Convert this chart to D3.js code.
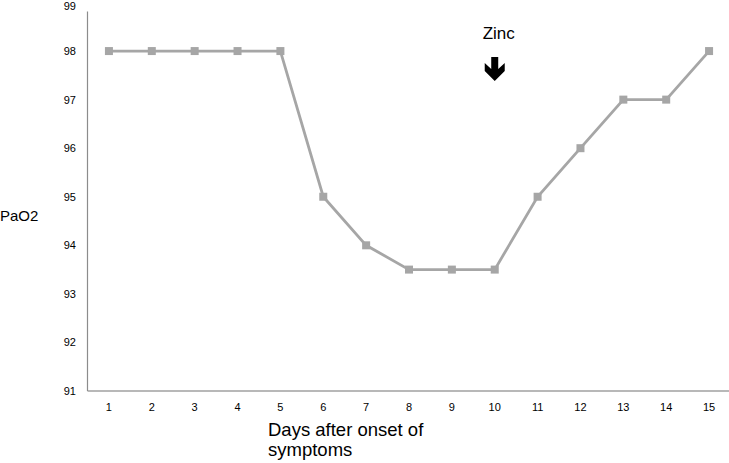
<!DOCTYPE html>
<html lang="en">
<head>
    <meta charset="UTF-8">
    <title>PaO2</title>
    <script src="https://d3js.org/d3.v7.min.js"></script>
    <style>
        body { margin: 0; background: #fff; }
        text { font-family: "Liberation Sans", Arial, sans-serif; fill: #000; }
    </style>
</head>
<body>
    <script>
        // Data
        const days = [1, 2, 3, 4, 5, 6, 7, 8, 9, 10, 11, 12, 13, 14, 15];
        const pao2 = [98, 98, 98, 98, 98, 95, 94, 93.5, 93.5, 93.5, 95, 96, 97, 97, 98];
        const yTicks = [91, 92, 93, 94, 95, 96, 97, 98, 99];
        const zincDay = 10;

        const width = 729;
        const height = 463;
        const svg = d3.select('body')
            .append('svg')
            .attr('width', width)
            .attr('height', height);

        const x = d3.scaleBand()
            .domain(days)
            .range([87.5, 730.5]);

        const y = d3.scaleLinear()
            .domain([91, 99])
            .range([391, 2.5]);

        // Axes
        svg.append('line')
            .attr('x1', x.range()[0]).attr('x2', x.range()[1])
            .attr('y1', y(91)).attr('y2', y(91))
            .attr('stroke', '#a0a0a0').attr('stroke-width', 1.5);
        svg.append('line')
            .attr('x1', x.range()[0]).attr('x2', x.range()[0])
            .attr('y1', y(91)).attr('y2', y(99) + 9)
            .attr('stroke', '#8c8c8c').attr('stroke-width', 1.2);

        svg.selectAll('.ytick')
            .data(yTicks)
            .enter()
            .append('text')
            .attr('class', 'ytick')
            .attr('x', 76)
            .attr('y', d => Math.max(y(d), 6))
            .attr('dy', 4)
            .attr('text-anchor', 'end')
            .attr('font-size', 11)
            .text(d => d);

        svg.selectAll('.xtick')
            .data(days)
            .enter()
            .append('text')
            .attr('class', 'xtick')
            .attr('x', d => x(d) + x.bandwidth() / 2)
            .attr('y', 411)
            .attr('text-anchor', 'middle')
            .attr('font-size', 11)
            .text(d => d);

        // Line and markers
        const pts = days.map((d, i) => ({ day: d, v: pao2[i] }));
        const line = d3.line()
            .x(d => x(d.day) + x.bandwidth() / 2)
            .y(d => y(d.v));

        svg.append('path')
            .datum(pts)
            .attr('d', line)
            .attr('fill', 'none')
            .attr('stroke', '#a6a6a6')
            .attr('stroke-width', 2.8);

        svg.selectAll('.pt')
            .data(pts)
            .enter()
            .append('rect')
            .attr('class', 'pt')
            .attr('x', d => x(d.day) + x.bandwidth() / 2 - 4)
            .attr('y', d => y(d.v) - 4)
            .attr('width', 8)
            .attr('height', 8)
            .attr('fill', '#a6a6a6');

        // Labels
        svg.append('text')
            .attr('x', 0)
            .attr('y', 221)
            .attr('font-size', 15)
            .text('PaO2');

        svg.append('text')
            .attr('x', 268)
            .attr('y', 436)
            .attr('font-size', 18.5)
            .text('Days after onset of');
        svg.append('text')
            .attr('x', 268)
            .attr('y', 456)
            .attr('font-size', 18.5)
            .text('symptoms');

        // Zinc annotation
        const zx = x(zincDay) + x.bandwidth() / 2;
        svg.append('text')
            .attr('x', zx + 4)
            .attr('y', 39)
            .attr('text-anchor', 'middle')
            .attr('font-size', 17)
            .text('Zinc');

        svg.append('path')
            .attr('transform', `translate(${zx},57)`)
            .attr('d', 'M -3.5 0 L 3.5 0 L 3.5 12 L 10 6 L 10 14 L 0 24 L -10 14 L -10 6 L -3.5 12 Z')
            .attr('fill', '#000');
    </script>
</body>
</html>
